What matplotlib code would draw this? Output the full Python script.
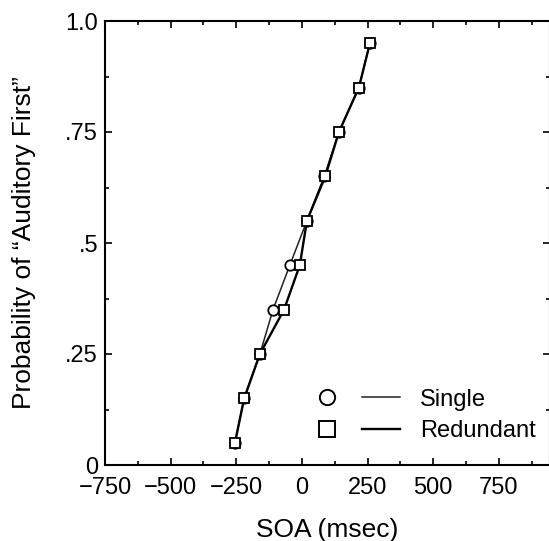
import matplotlib
matplotlib.use("Agg")
import matplotlib.pyplot as plt
from matplotlib.lines import Line2D
from matplotlib.ticker import MultipleLocator

plt.rcParams['font.family'] = ['Liberation Sans', 'DejaVu Sans']

# SOA (msec) vs probability of "auditory first"
prob = [0.05, 0.15, 0.25, 0.35, 0.45, 0.55, 0.65, 0.75, 0.85, 0.95]
soa_single = [-255, -220, -160, -110, -46, 19, 85, 141, 217, 259]
soa_redundant = [-255, -220, -160, -68, -8, 19, 89, 141, 217, 259]

xticks = [-750, -500, -250, 0, 250, 500, 750]
yticks = [0, 0.25, 0.5, 0.75, 1.0]
ytick_labels = ['0', '.25', '.5', '.75', '1.0']

fig = plt.figure(figsize=(5.49, 5.41), dpi=100)
ax = fig.add_axes([105 / 549, (541 - 465) / 541, 445 / 549, 444 / 541])

ax.plot(soa_single, prob, color='#222222', lw=1.1, marker='o', ms=7.5,
        mfc='white', mec='black', mew=1.3, zorder=3)
ax.plot(soa_redundant, prob, color='black', lw=1.7, marker='s', ms=7.5,
        mfc='white', mec='black', mew=1.3, zorder=4)

ax.set_xlim(-750, 945)
ax.set_ylim(0, 1.0)
ax.set_xticks(xticks)
ax.set_xticklabels([str(t).replace('-', '\u2212') for t in xticks])
ax.xaxis.set_minor_locator(MultipleLocator(125))
ax.set_yticks(yticks)
ax.set_yticklabels(ytick_labels)
ax.yaxis.set_minor_locator(MultipleLocator(0.125))
ax.tick_params(which='both', direction='in', top=True, right=True,
               labelsize=17, width=1.2)
ax.tick_params(axis='x', pad=9)
ax.tick_params(axis='y', pad=5)
ax.tick_params(which='major', length=5)
ax.tick_params(which='minor', length=3)
for s in ax.spines.values():
    s.set_linewidth(1.5)

ax.set_xlabel('SOA (msec)', fontsize=19, labelpad=13)
ax.set_ylabel('Probability of \u201cAuditory First\u201d', fontsize=19, labelpad=21)

handles = [
    Line2D([], [], ls='none', marker='o', ms=11, mfc='white', mec='black', mew=1.4),
    Line2D([], [], ls='none', marker='s', ms=11, mfc='white', mec='black', mew=1.4),
    Line2D([], [], color='#222222', lw=1.1),
    Line2D([], [], color='black', lw=1.7),
]
ax.legend(handles, ['', '', 'Single', 'Redundant'], ncol=2, frameon=False,
          loc='upper left', bbox_to_anchor=(0.409, 0.220), fontsize=17,
          handlelength=1.6, columnspacing=-0.17, handletextpad=0.85,
          labelspacing=0.42, borderpad=0.4)

fig.savefig('out.png', dpi=100)
